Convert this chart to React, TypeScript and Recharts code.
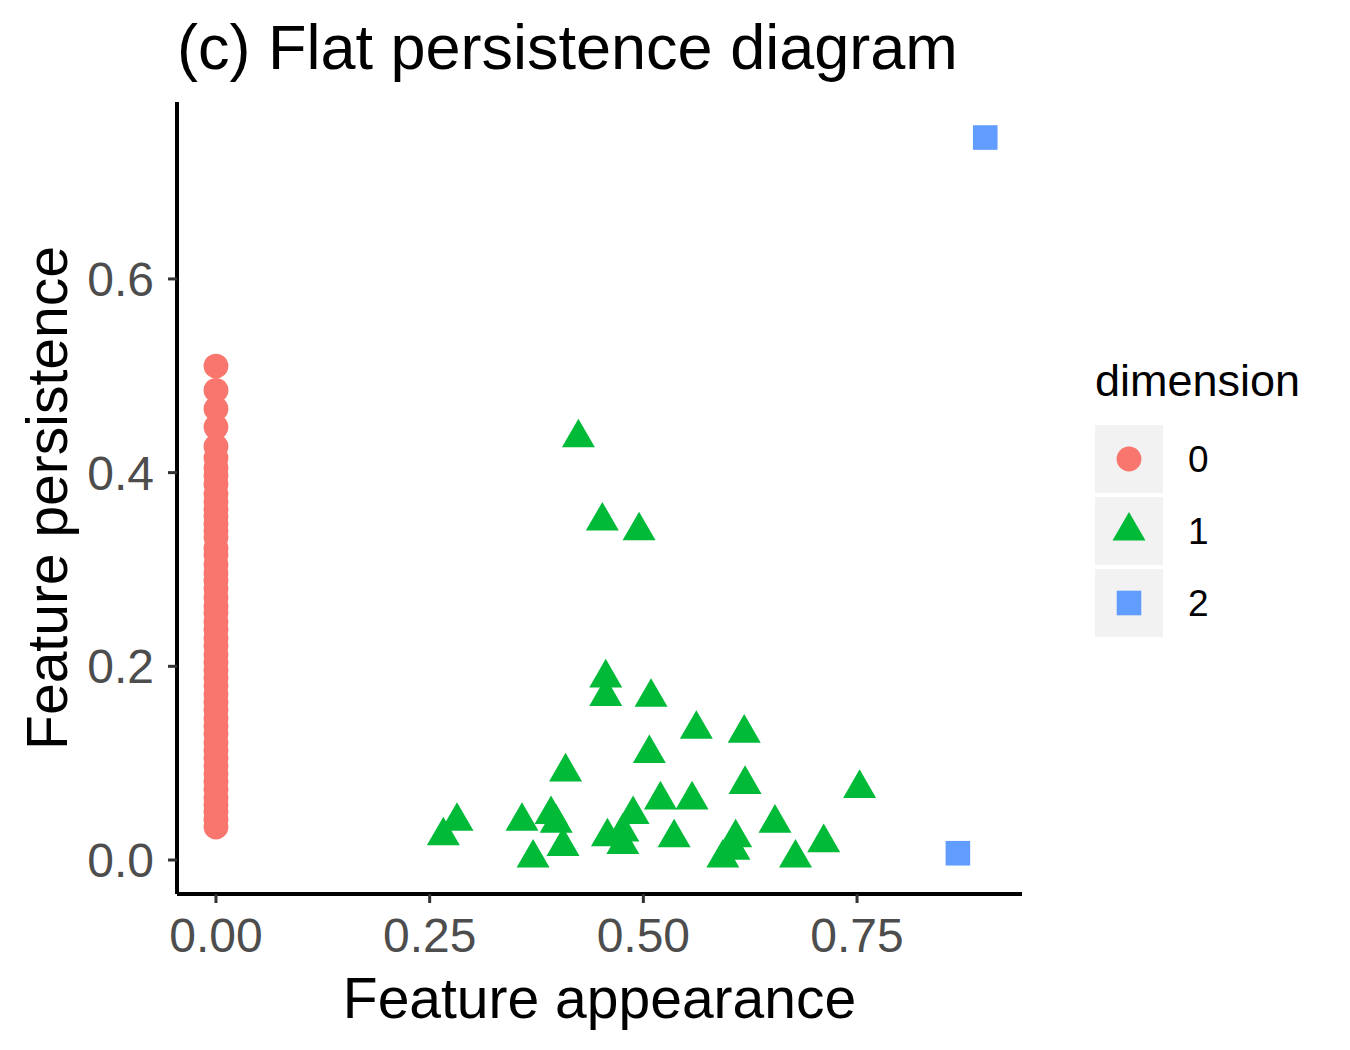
import { ScatterChart, Scatter, XAxis, YAxis, Legend, Label } from "recharts";

const FONT = '"Liberation Sans", Arial, Helvetica, sans-serif';

// dimension 0 features are all born at 0, only their persistence differs
const DIM0_PERSISTENCE = [
  0.51, 0.485, 0.466, 0.447, 0.427, 0.415, 0.405, 0.397, 0.388, 0.378, 0.37,
  0.362, 0.355, 0.347, 0.34, 0.333, 0.322, 0.315, 0.305, 0.296, 0.288, 0.28,
  0.271, 0.262, 0.255, 0.246, 0.238, 0.229, 0.221, 0.212, 0.204, 0.196, 0.188,
  0.18, 0.171, 0.163, 0.155, 0.146, 0.138, 0.13, 0.121, 0.113, 0.105, 0.097,
  0.089, 0.081, 0.073, 0.064, 0.057, 0.05, 0.042, 0.034,
];

const DIM1_APPEARANCE = [
  0.424, 0.452, 0.495, 0.456, 0.456, 0.509, 0.562, 0.507, 0.409, 0.282, 0.266,
  0.358, 0.392, 0.398, 0.406, 0.371, 0.458, 0.488, 0.476, 0.476, 0.52, 0.557,
  0.536, 0.618, 0.619, 0.753, 0.654, 0.608, 0.606, 0.593, 0.678, 0.711,
];
const DIM1_PERSISTENCE = [
  0.436, 0.35, 0.34, 0.188, 0.169, 0.168, 0.135, 0.11, 0.091, 0.04, 0.025,
  0.04, 0.047, 0.038, 0.014, 0.002, 0.024, 0.047, 0.029, 0.016, 0.062, 0.062,
  0.023, 0.131, 0.078, 0.074, 0.038, 0.023, 0.01, 0.002, 0.002, 0.018,
];

const DIM2_APPEARANCE = [0.868, 0.9];
const DIM2_PERSISTENCE = [0.007, 0.746];

const X_TICKS = [0, 0.25, 0.5, 0.75];
const Y_TICKS = [0, 0.2, 0.4, 0.6];

const dim0 = DIM0_PERSISTENCE.map((y) => ({ x: 0, y }));
const dim1 = DIM1_APPEARANCE.map((x, i) => ({ x, y: DIM1_PERSISTENCE[i] }));
const dim2 = DIM2_APPEARANCE.map((x, i) => ({ x, y: DIM2_PERSISTENCE[i] }));

type Kind = "circle" | "triangle" | "square";

const SERIES: { name: string; kind: Kind; color: string; data: { x: number; y: number }[] }[] = [
  { name: "0", kind: "circle", color: "#F8766D", data: dim0 },
  { name: "1", kind: "triangle", color: "#00BA38", data: dim1 },
  { name: "2", kind: "square", color: "#619CFF", data: dim2 },
];

const WIDTH = 1350;
const HEIGHT = 1050;
const PLOT_LEFT = 177;
const PLOT_RIGHT = 1022;
const PLOT_TOP = 102;
const PLOT_BOTTOM = 894;

function Marker({ kind, cx, cy, fill }: { kind: Kind; cx: number; cy: number; fill: string }) {
  if (kind === "circle") return <circle cx={cx} cy={cy} r={12.4} fill={fill} />;
  if (kind === "triangle") {
    // R's filled triangle: centroid on the point
    const r = 19.1;
    const half = 16.5;
    return (
      <polygon
        points={`${cx},${cy - r} ${cx + half},${cy + r / 2} ${cx - half},${cy + r / 2}`}
        fill={fill}
      />
    );
  }
  return <rect x={cx - 12.3} y={cy - 12.3} width={24.6} height={24.6} fill={fill} />;
}

function DimensionLegend() {
  return (
    <svg width={250} height={300} style={{ display: "block" }}>
      <text x={0} y={56} fontSize={45} fontFamily={FONT} fill="#000">
        dimension
      </text>
      {SERIES.map((s, i) => {
        const top = 85 + i * 72;
        return (
          <g key={s.name}>
            <rect x={0} y={top} width={68} height={68} fill="#F2F2F2" />
            <Marker kind={s.kind} cx={34} cy={top + 34} fill={s.color} />
            <text x={93} y={top + 47} fontSize={37} fontFamily={FONT} fill="#000">
              {s.name}
            </text>
          </g>
        );
      })}
    </svg>
  );
}

export default function App() {
  return (
    <div style={{ position: "absolute", left: 0, top: 0, width: WIDTH, height: HEIGHT, background: "#fff" }}>
      <svg width={WIDTH} height={100} style={{ position: "absolute", left: 0, top: 0 }}>
        <text x={177} y={69} fontSize={63} fontFamily={FONT} fill="#000">
          (c) Flat persistence diagram
        </text>
      </svg>
      <ScatterChart
        width={WIDTH}
        height={HEIGHT}
        margin={{ top: PLOT_TOP, right: WIDTH - PLOT_RIGHT, bottom: 0, left: 0 }}
      >
        <XAxis
          type="number"
          dataKey="x"
          domain={[-0.0456, 0.943]}
          allowDataOverflow
          ticks={X_TICKS}
          tickFormatter={(v: number) => v.toFixed(2)}
          height={HEIGHT - PLOT_BOTTOM}
          axisLine={{ stroke: "#000", strokeWidth: 4 }}
          tickLine={{ stroke: "#333333", strokeWidth: 3 }}
          tickSize={9}
          tickMargin={15}
          tick={{ fill: "#4D4D4D", fontSize: 48, fontFamily: FONT }}
        >
          <Label
            value="Feature appearance"
            position="insideBottom"
            offset={32}
            style={{ fontSize: 57, fill: "#000", fontFamily: FONT }}
          />
        </XAxis>
        <YAxis
          type="number"
          dataKey="y"
          domain={[-0.0351, 0.7827]}
          allowDataOverflow
          ticks={Y_TICKS}
          tickFormatter={(v: number) => v.toFixed(1)}
          width={PLOT_LEFT}
          axisLine={{ stroke: "#000", strokeWidth: 4 }}
          tickLine={{ stroke: "#333333", strokeWidth: 3 }}
          tickSize={9}
          tickMargin={14}
          tick={{ fill: "#4D4D4D", fontSize: 48, fontFamily: FONT }}
        >
          <Label
            content={() => {
              const cy = (PLOT_TOP + PLOT_BOTTOM) / 2;
              return (
                <text
                  x={67}
                  y={cy}
                  transform={`rotate(-90, 67, ${cy})`}
                  textAnchor="middle"
                  fontSize={57}
                  fontFamily={FONT}
                  fill="#000"
                >
                  Feature persistence
                </text>
              );
            }}
          />
        </YAxis>
        <Legend
          layout="vertical"
          align="center"
          verticalAlign="middle"
          content={() => <DimensionLegend />}
          wrapperStyle={{ left: 1095, top: 340, width: 250 }}
        />
        {SERIES.map((s) => (
          <Scatter
            key={s.name}
            name={s.name}
            data={s.data}
            fill={s.color}
            isAnimationActive={false}
            shape={(p: any) => <Marker kind={s.kind} cx={p.cx} cy={p.cy} fill={s.color} />}
          />
        ))}
      </ScatterChart>
    </div>
  );
}
